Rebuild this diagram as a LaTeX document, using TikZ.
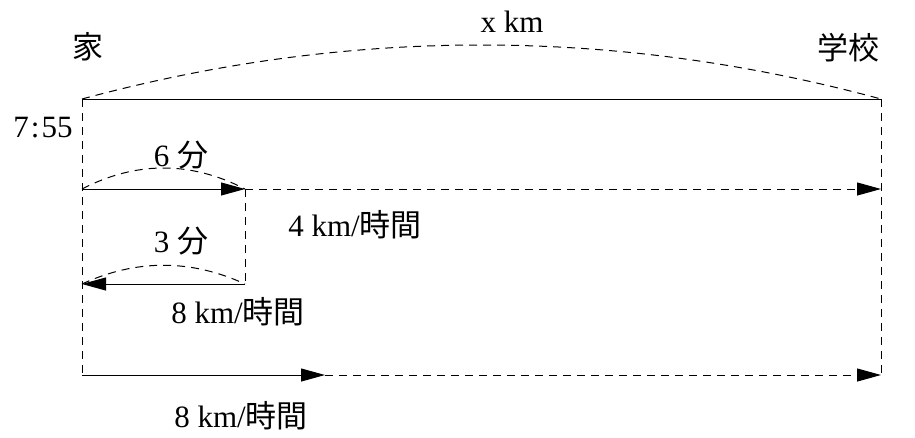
\documentclass[tikz,border=0pt]{standalone}
\usepackage{fontspec}
\setmainfont{Liberation Serif}
\newfontfamily\cjk{Noto Sans CJK JP}
\usetikzlibrary{arrows.meta}
\begin{document}
\begin{tikzpicture}[x=1pt,y=-1pt,
  line width=1pt,
  dsh/.style={dash pattern=on 8pt off 6pt},
  arr/.style={-{Triangle[length=24pt,width=13pt]}},
  lbl/.style={inner sep=0pt,font=\fontsize{31}{34}\selectfont}
]
\useasboundingbox (0,0) rectangle (915,437);
% points
\coordinate (TL) at (82,99);
\coordinate (TR) at (881,99);
\coordinate (A1) at (82,189);
\coordinate (B1) at (245,189);
\coordinate (R1) at (881,189);
\coordinate (A2) at (82,284);
\coordinate (B2) at (245,284);
\coordinate (A3) at (82,375);
\coordinate (B3) at (325,375);
\coordinate (R3) at (881,375);
% texts
\node[lbl] (home) at (88,47) {\cjk 家};
\node[lbl] (school) at (848,48) {\cjk 学校};
\node[lbl] (dist) at (512,22) {x km};
\node[lbl,anchor=east] (time) at (73,128) {7\kern2pt:\kern2pt55};
\node[lbl] (t6) at (181,155) {6 \cjk 分};
\node[lbl] (v4) at (355,225) {4 km/\cjk 時間};
\node[lbl] (t3) at (181,241) {3 \cjk 分};
\node[lbl] (v8a) at (238,312) {8 km/\cjk 時間};
\node[lbl] (v8b) at (241,416) {8 km/\cjk 時間};
% frame
\draw (TL) -- (TR);
\draw[dsh] (TL) -- (A3);
\draw[dsh] (TR) -- (R3);
\draw[dsh] (B1) -- (B2);
% top arc
\draw[dsh] (TL) .. controls (348,27) and (615,27) .. (TR);
% row 1
\draw[dsh] (A1) .. controls (136,161) and (191,161) .. (B1);
\draw[arr] (A1) -- (B1);
\draw[dsh,arr] (B1) -- (R1);
% row 2
\draw[dsh] (A2) .. controls (136,259) and (191,259) .. (B2);
\draw[arr] (B2) -- (A2);
% row 3
\draw[arr] (A3) -- (B3);
\draw[dsh,arr] (B3) -- (R3);
\end{tikzpicture}
\end{document}
